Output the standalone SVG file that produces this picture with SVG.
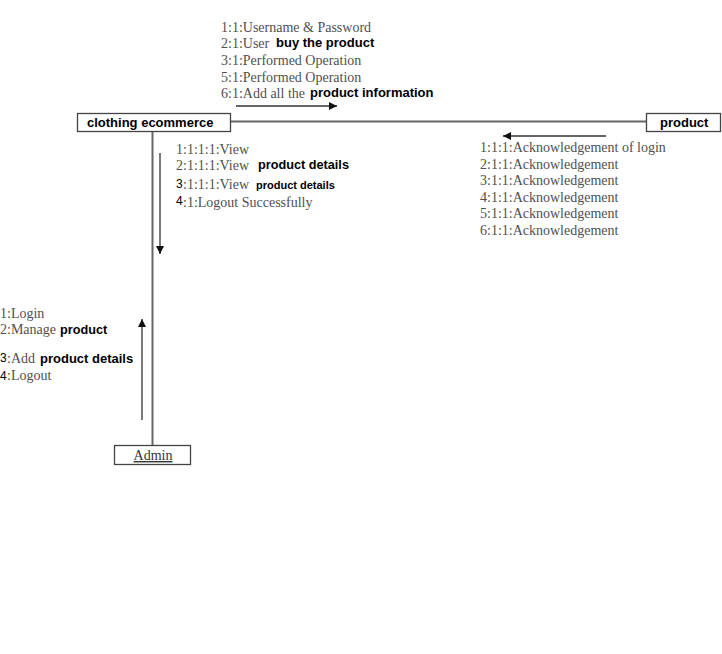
<svg xmlns="http://www.w3.org/2000/svg" width="722" height="654" viewBox="0 0 722 654">
  <style>
    .box { fill: #ffffff; stroke: #444444; stroke-width: 1.3; }
    .link { stroke: #666666; stroke-width: 2; fill: none; }
    .msg { stroke: #333333; stroke-width: 1.3; fill: none; }
    .g { font-family: "Liberation Serif", "Times New Roman", serif; font-size: 14px; fill: #505050; }
    .k { font-family: "Liberation Sans", Arial, sans-serif; font-size: 12.7px; font-weight: bold; fill: #000000; }
    .n { font-family: "Liberation Sans", Arial, sans-serif; font-size: 13px; font-weight: bold; fill: #000000; }
    .d { font-family: "Liberation Sans", Arial, sans-serif; font-size: 12px; fill: #000000; }
  </style>
  <defs>
    <marker id="head" viewBox="0 0 10 10" refX="10" refY="5" markerWidth="8" markerHeight="8" markerUnits="userSpaceOnUse" orient="auto">
      <path d="M0,0 L10,5 L0,10 Z" fill="#111111"/>
    </marker>
  </defs>
  <rect width="722" height="654" fill="#ffffff"/>

  <!-- links between objects and message arrows -->
  <g id="connectors">
    <line class="link" x1="231" y1="121.5" x2="646" y2="121.5"/>
    <line class="link" x1="152.5" y1="131" x2="152.5" y2="445"/>
    <line class="msg" x1="236" y1="106" x2="337" y2="106" marker-end="url(#head)"/>
    <line class="msg" x1="606" y1="136" x2="503" y2="136" marker-end="url(#head)"/>
    <line class="msg" x1="160" y1="153" x2="160" y2="254" marker-end="url(#head)"/>
    <line class="msg" x1="142" y1="420" x2="142" y2="319" marker-end="url(#head)"/>
  </g>

  <!-- messages to product -->
  <g id="labels-top">
    <text class="g" x="221" y="32">1:1:Username &amp; Password</text>
    <text class="g" x="221" y="48">2:1:User</text>
    <text class="n" x="276" y="47">buy the product</text>
    <text class="g" x="221" y="65">3:1:Performed Operation</text>
    <text class="g" x="221" y="82">5:1:Performed Operation</text>
    <text class="g" x="221" y="98">6:1:Add all the</text>
    <text class="n" x="310" y="97">product information</text>
  </g>

  <!-- replies from product -->
  <g id="labels-right">
    <text class="g" x="480" y="152">1:1:1:Acknowledgement of login</text>
    <text class="g" x="480" y="169">2:1:1:Acknowledgement</text>
    <text class="g" x="480" y="185">3:1:1:Acknowledgement</text>
    <text class="g" x="480" y="202">4:1:1:Acknowledgement</text>
    <text class="g" x="480" y="218">5:1:1:Acknowledgement</text>
    <text class="g" x="480" y="235">6:1:1:Acknowledgement</text>
  </g>

  <!-- messages to Admin -->
  <g id="labels-down">
    <text class="g" x="176" y="154">1:1:1:1:View</text>
    <text class="g" x="176" y="170">2:1:1:1:View</text>
    <text class="k" x="258" y="169">product details</text>
    <text class="d" x="176" y="188">3</text>
    <text class="g" x="183" y="189">:1:1:1:View</text>
    <text class="k" x="256" y="189" style="font-size:11px">product details</text>
    <text class="d" x="176" y="205">4</text>
    <text class="g" x="183" y="207">:1:Logout Successfully</text>
  </g>

  <!-- messages from Admin -->
  <g id="labels-left">
    <text class="g" x="0" y="318">1:Login</text>
    <text class="g" x="0" y="334">2:Manage</text>
    <text class="k" x="60" y="334">product</text>
    <text class="d" x="0" y="362">3</text>
    <text class="g" x="7" y="363">:Add</text>
    <text class="n" x="40" y="363">product details</text>
    <text class="d" x="0" y="380">4</text>
    <text class="g" x="7" y="380">:Logout</text>
  </g>

  <g id="node-clothing-ecommerce">
    <rect class="box" x="77.5" y="113.5" width="153" height="18"/>
    <text class="n" x="87" y="127">clothing ecommerce</text>
  </g>

  <g id="node-product">
    <rect class="box" x="646.5" y="113.5" width="74" height="18"/>
    <text class="n" x="660" y="127">product</text>
  </g>

  <g id="node-admin">
    <rect class="box" x="114.5" y="445.5" width="76" height="19"/>
    <text class="g" x="153" y="460" text-anchor="middle" text-decoration="underline" style="fill:#333333">Admin</text>
  </g>
</svg>
